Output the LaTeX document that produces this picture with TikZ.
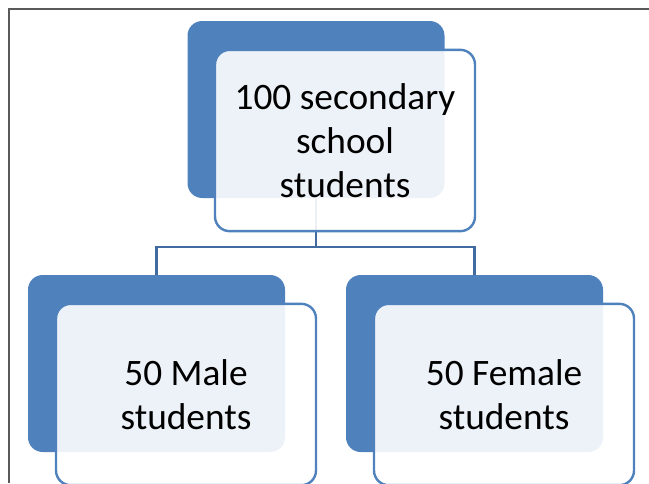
\documentclass[tikz,border=0pt]{standalone}
\usepackage{fontspec}
\setmainfont{Carlito}
\usepackage{xcolor}
\usepackage{tikz}
\usetikzlibrary{positioning}
\definecolor{officeblue}{RGB}{79, 129, 189}
\definecolor{linkblue}{RGB}{65, 107, 160}
\definecolor{framegray}{RGB}{90, 90, 90}

\tikzset{
    backbox/.style={rectangle, rounded corners=11pt, fill=officeblue, inner sep=0pt,
        minimum width=192.75pt, minimum height=132.75pt},
    frontbox/.style={rectangle, rounded corners=11pt, draw=officeblue, line width=1.8pt,
        fill=white, fill opacity=0.9, text opacity=1, inner sep=0pt, align=center,
        minimum width=195pt, minimum height=136pt, font=\fontsize{28}{33}\selectfont},
    link/.style={draw=linkblue, line width=1.6pt}
}

\begin{document}
\begin{tikzpicture}[x=0.75pt, y=-0.75pt]
            \useasboundingbox (0,0) rectangle (649,483);
            \clip (0,0) rectangle (649,483);

            % Page edge
            \draw[framegray, line width=1.1pt] (9,483) -- (9,9) -- (649,9);

            % Back boxes
            \node[backbox] (topback) at (316,109.5) {};
            \node[backbox] (maleback) at (156.5,363.5) {};
            \node[backbox] (femaleback) at (474.5,363.5) {};

            % Connectors
            \draw[link] (topback.south) -- ++(0,49) -| (maleback.north);
            \draw[link] (topback.south) -- ++(0,49) -| (femaleback.north);

            % Front boxes
            \node[frontbox] (topfront) at ([shift={(29,31)}]topback) {100 secondary\\school\\students};
            \node[frontbox] (malefront) at ([shift={(29.5,31)}]maleback) {50 Male\\students};
            \node[frontbox] (femalefront) at ([shift={(29.5,31)}]femaleback) {50 Female\\students};
        \end{tikzpicture}
\end{document}
